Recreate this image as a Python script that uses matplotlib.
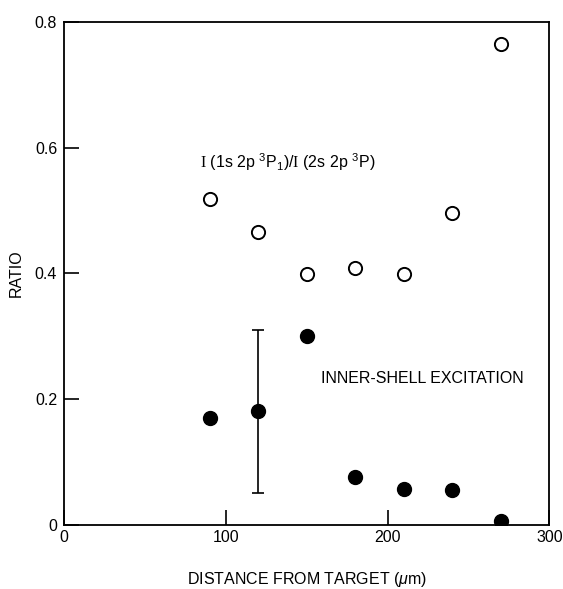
import matplotlib.pyplot as plt
import numpy as np

plt.rcParams['font.family'] = ['Liberation Sans', 'DejaVu Sans']
plt.rcParams['mathtext.fontset'] = 'custom'
plt.rcParams['mathtext.rm'] = 'Liberation Sans'
plt.rcParams['mathtext.it'] = 'Liberation Sans:italic'
plt.rcParams['mathtext.tt'] = 'Liberation Serif'

# Distance from target (um)
distance = [90, 120, 150, 180, 210, 240, 270]
# I(1s 2p 3P1)/I(2s 2p 3P) ratio
ratio_open = [0.518, 0.466, 0.399, 0.409, 0.399, 0.496, 0.765]
# inner-shell excitation ratio
ratio_filled = [0.170, 0.181, 0.300, 0.076, 0.057, 0.056, 0.006]
err_x = 120
err_lo, err_hi = 0.05, 0.31

fig = plt.figure(figsize=(5.63, 5.89), dpi=100)
ax = fig.add_axes([0.114, 0.109, 0.862, 0.854])

ax.plot(distance, ratio_open, 'o', ms=9.5, mfc='white', mec='black', mew=1.4, ls='none')
ax.plot(distance, ratio_filled, 'o', ms=10, color='black', ls='none')
ax.errorbar([err_x], [ratio_filled[1]], yerr=[[ratio_filled[1] - err_lo], [err_hi - ratio_filled[1]]],
            fmt='none', ecolor='black', elinewidth=1.2, capsize=4, capthick=1.2)

ax.set_xlim(0, 300)
ax.set_ylim(0, 0.8)
ax.set_xticks([0, 100, 200, 300])
ax.set_yticks([0, 0.2, 0.4, 0.6, 0.8])
ax.set_xticklabels(['0', '100', '200', '300'])
ax.set_yticklabels(['0', '0.2', '0.4', '0.6', '0.8'])
ax.tick_params(direction='in', length=11, width=1.2, labelsize=11.5, pad=5)
ax.tick_params(axis='x', pad=4)
for s in ax.spines.values():
    s.set_linewidth(1.3)

ax.set_xlabel(r'DISTANCE FROM TARGET ($\mu$m)', fontsize=11.5, labelpad=18)
ax.set_ylabel('RATIO', fontsize=11.5, labelpad=8)

ax.text(84, 0.567, r'$\mathtt{I}$ (1s 2p $^{3}$P$_{1}$)/$\mathtt{I}$ (2s 2p $^{3}$P)', fontsize=11.5)
ax.text(159, 0.225, 'INNER-SHELL EXCITATION', fontsize=11.5)

fig.savefig('out.png', dpi=100)
